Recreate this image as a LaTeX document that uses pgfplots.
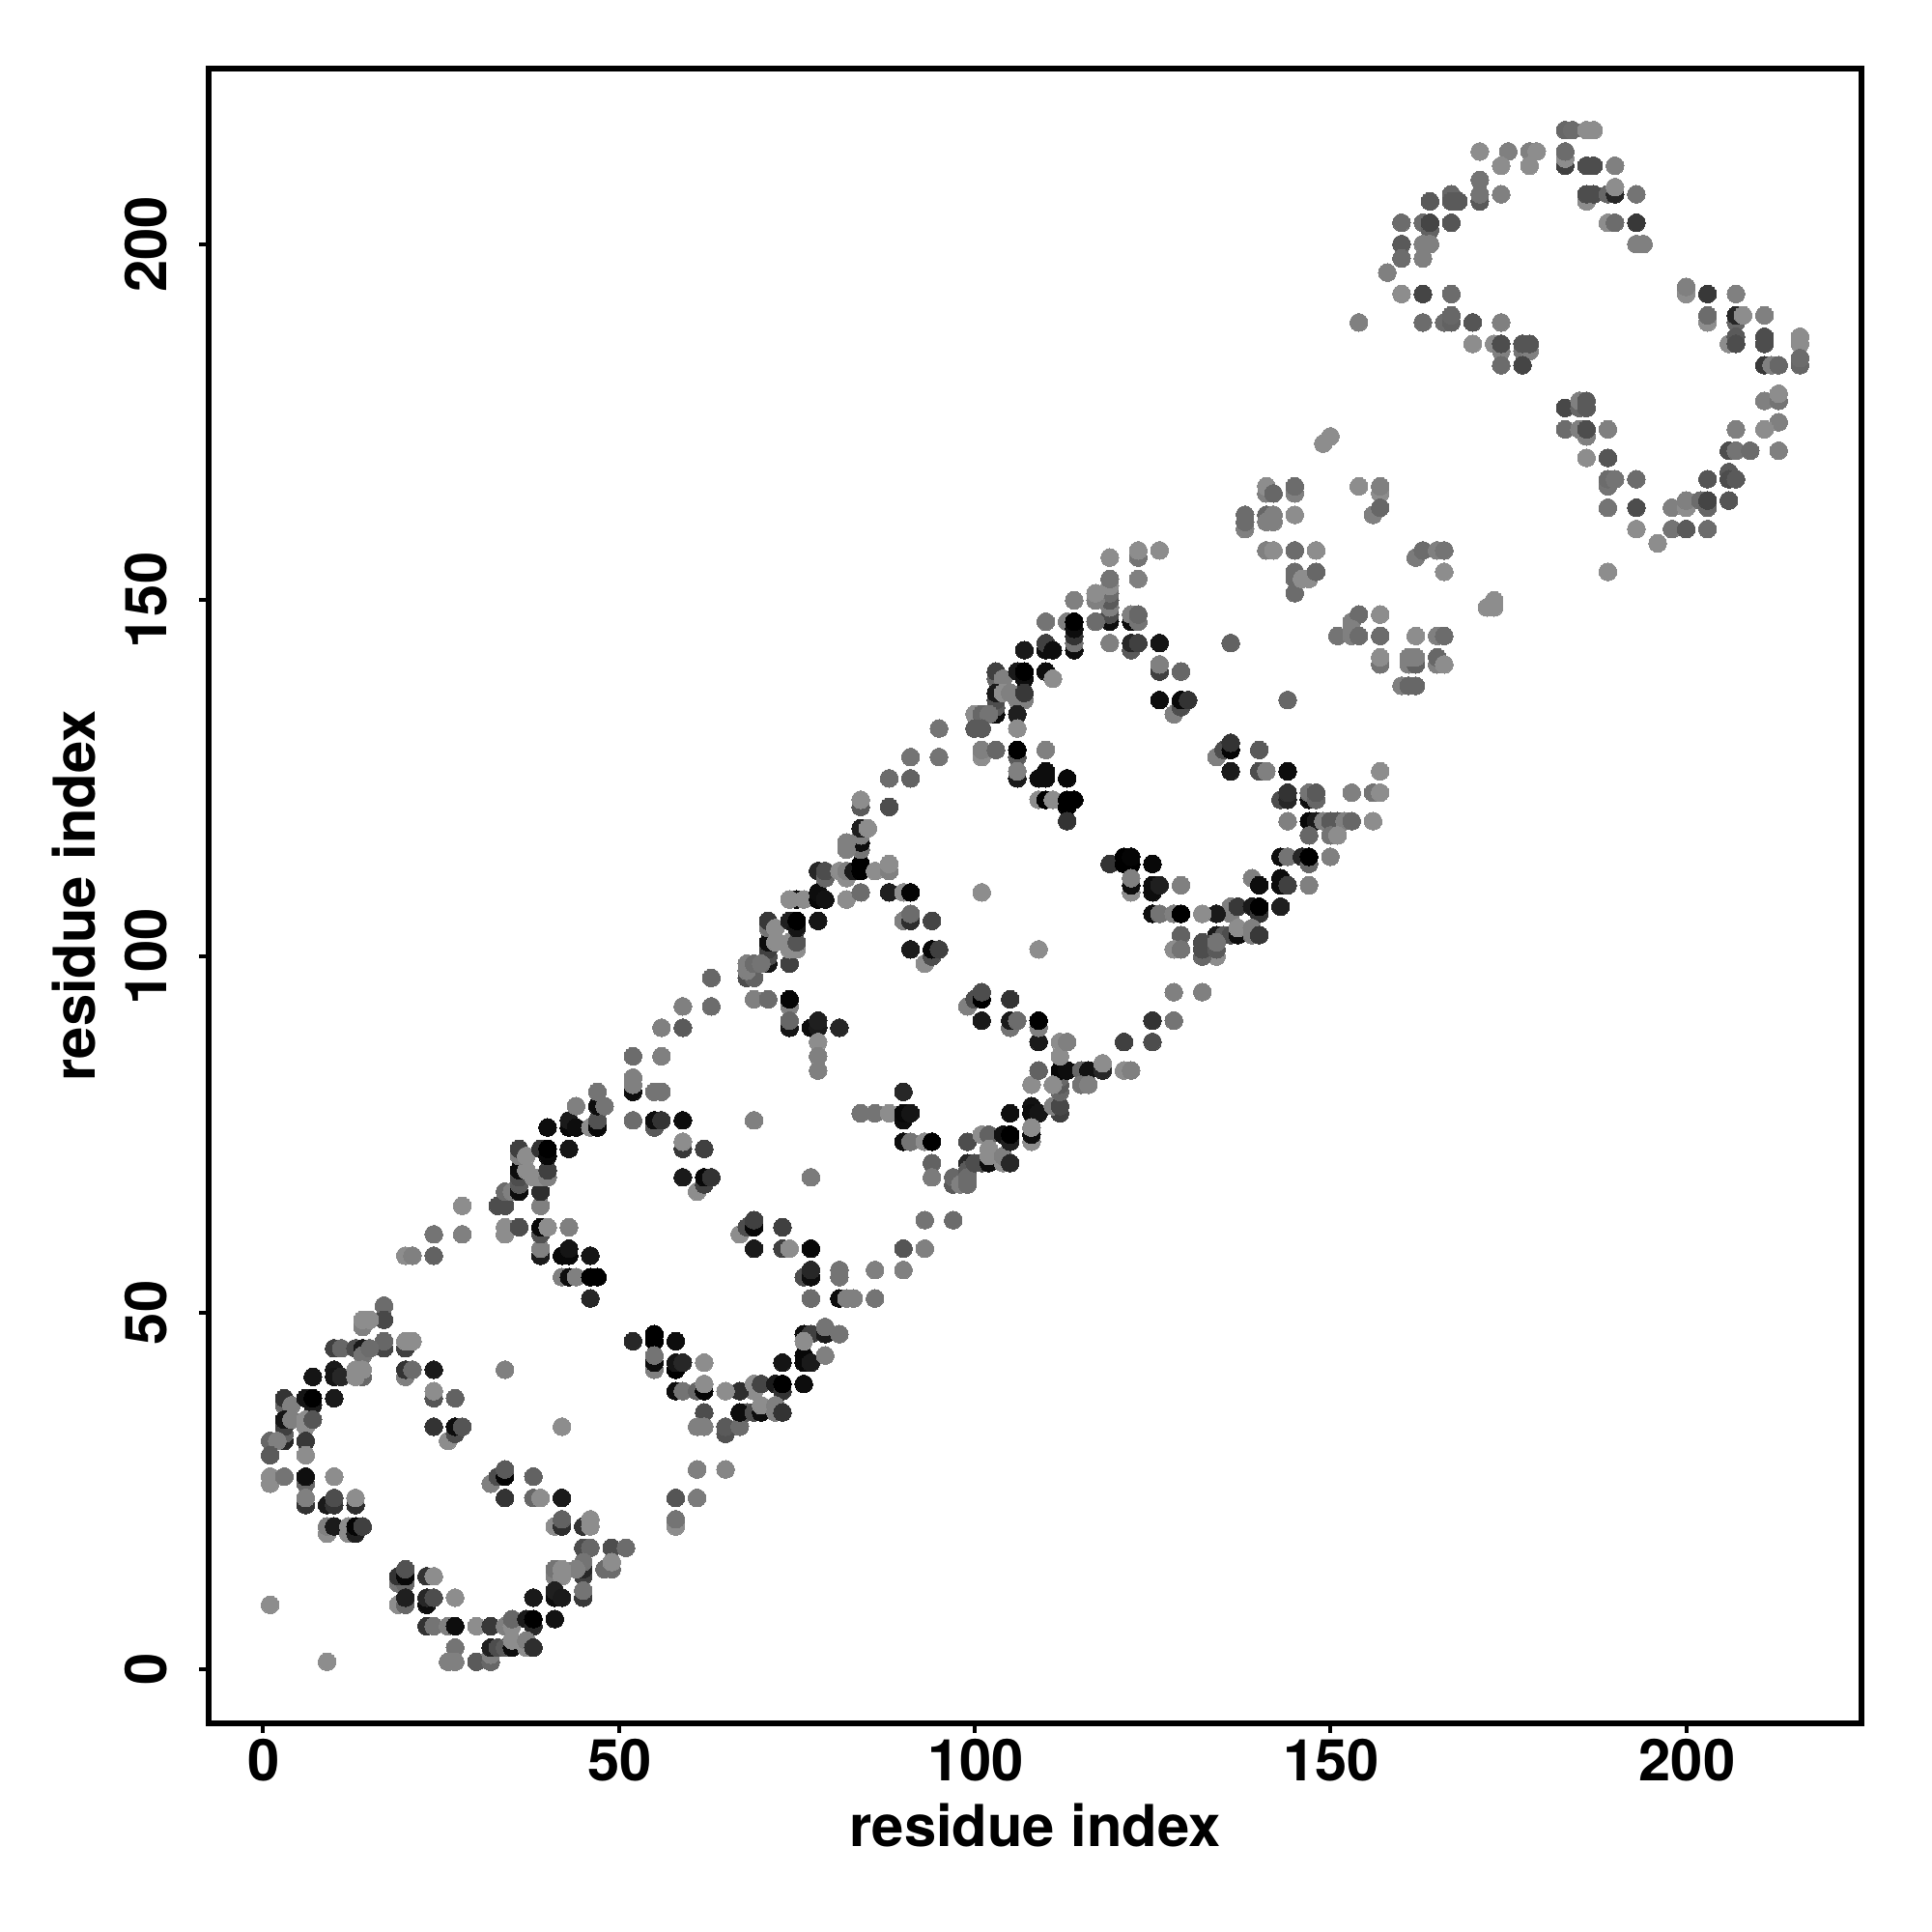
\documentclass[border=0pt]{standalone}
\usepackage{pgfplots}
\pgfplotsset{compat=1.18}
\usepackage{fontspec}
\setmainfont{TeX Gyre Heros}
\begin{document}
\begin{tikzpicture}[x=1cm,y=1cm]
\useasboundingbox (-2.16,-2.16) rectangle (17.84,17.84);
\begin{axis}[
  at={(0,0)},anchor=south west,
  scale only axis,width=17.11cm,height=17.13cm,
  xmin=-7.64,xmax=224.64,ymin=-7.64,ymax=224.64,
  xtick={0,50,100,150,200},ytick={0,50,100,150,200},
  xtick pos=bottom,ytick pos=left,tick align=outside,
  major tick length=0.95mm,
  every tick/.style={black,line width=0.4mm},
  axis line style={line width=0.53mm},
  /pgf/number format/assume math mode=true,
  tick label style={font=\fontsize{17}{20}\selectfont\bfseries},
  x tick label style={anchor=center,yshift=-2.9mm,xshift=0.1mm},
  y tick label style={rotate=90,anchor=center,yshift=5.5mm},
  xlabel={residue index},ylabel={residue index},
  label style={font=\fontsize{17}{20}\selectfont\bfseries},
  xlabel style={at={(axis description cs:0.5,0)},anchor=center,yshift=-10.55mm},
  ylabel style={at={(axis description cs:0,0.5)},anchor=center,yshift=13.9mm},
  point meta min=0,point meta max=1,
  colormap={bw}{gray(0cm)=(0);gray(1cm)=(1)},
  clip=false,
]
\addplot[scatter,only marks,mark=*,mark size=0.92mm,
  mark options={line width=0pt},
  scatter src=explicit,
  scatter/use mapped color={draw=mapped color,fill=mapped color}]
table[row sep=\\,x index=0,y index=1,meta index=2,header=false]{
1 9 .55\\ 9 1 .55\\
20 58 .55\\ 21 58 .5\\ 24 58 .38\\
17 51 .42\\ 17 49 .28\\ 14 48 .5\\ 14 49 .55\\ 15 49 .55\\
17 45 .27\\ 17 46 .4\\ 20 45 .25\\ 20 46 .55\\ 21 46 .55\\
10 45 .25\\ 11 45 .4\\ 13 45 .3\\ 14 45 .1\\ 14 44 .45\\ 15 45 .42\\
7 41 .08\\ 10 42 .1\\ 10 41 .08\\ 11 41 .15\\ 14 41 .4\\ 13 41 .55\\ 13 42 .55\\ 14 42 .55\\
20 41 .5\\ 20 42 .2\\ 21 42 .42\\ 24 42 .1\\ 34 42 .5\\
3 37 .4\\ 3 38 .2\\ 4 37 .5\\ 7 37 .1\\ 6 38 .08\\ 7 38 0\\ 10 38 .1\\
24 38 .33\\ 24 39 .55\\ 27 38 .38\\
3 32 .15\\ 3 33 .38\\ 3 34 .25\\ 3 35 .08\\ 4 35 .5\\ 1 32 .4\\ 2 32 .5\\ 1 30 .35\\ 6 34 .55\\ 6 35 .55\\ 7 35 .33\\ 6 32 .22\\ 6 30 .55\\
24 34 .2\\ 26 32 .55\\ 27 33 .3\\ 27 34 .05\\ 28 34 .33\\ 42 34 .55\\
1 26 .55\\ 1 27 .55\\ 3 27 .45\\ 6 26 .4\\ 6 27 .06\\ 10 27 .55\\
6 23 .2\\ 6 24 .5\\ 9 23 .1\\ 10 23 .2\\ 10 24 .3\\ 13 23 .18\\ 13 24 .55\\
9 19 .55\\ 9 20 .5\\ 10 20 .1\\ 12 19 .55\\ 12 20 .55\\ 13 19 .12\\ 13 20 .02\\ 14 20 .25\\
32 26 .5\\ 33 27 .3\\ 34 27 .02\\ 34 28 .35\\
38 27 .38\\ 34 24 .2\\ 38 24 .4\\ 39 24 .55\\ 42 24 .1\\ 58 24 .33\\ 58 20 .55\\ 58 21 .45\\
41 20 .55\\ 42 20 .18\\ 42 21 .38\\ 45 20 .2\\ 46 20 .55\\ 46 21 .55\\
45 17 .3\\ 46 17 .4\\ 49 17 .3\\ 51 17 .42\\
45 13 .25\\ 45 14 .15\\ 45 15 .45\\ 44 14 .5\\ 41 13 .5\\ 41 14 .45\\ 42 13 .55\\ 42 14 .55\\ 48 14 .42\\ 49 14 .42\\ 49 15 .55\\
45 10 .22\\ 45 11 .45\\ 41 10 .05\\ 41 11 .12\\ 42 10 .1\\ 38 10 .1\\
19 12 .45\\ 20 12 .4\\ 19 13 .2\\ 20 13 .03\\ 20 14 .32\\ 23 13 .2\\ 24 13 .55\\
19 9 .55\\ 20 9 .4\\ 20 10 .12\\ 23 9 .05\\ 23 10 .15\\ 24 10 .3\\ 27 10 .55\\
23 6 .2\\ 24 6 .45\\ 26 6 .5\\ 27 6 .05\\ 30 6 .55\\ 32 6 .22\\ 34 6 .5\\ 35 6 .55\\ 35 7 .4\\ 37 7 .1\\ 38 6 .15\\ 38 7 0\\ 41 7 .07\\
27 3 .45\\ 26 1 .5\\ 27 1 .5\\ 30 1 .35\\ 32 1 .4\\ 32 2 .5\\ 32 3 .12\\ 33 3 .3\\ 34 3 .35\\ 35 3 .05\\ 35 4 .55\\ 37 3 .55\\ 37 4 .5\\ 38 3 .18\\
39 58 .1\\ 42 58 .03\\ 43 58 .03\\ 46 58 .08\\ 43 59 .08\\ 39 59 .5\\ 42 55 .5\\ 43 55 .05\\ 44 55 .5\\ 46 55 0\\ 47 55 0\\ 46 52 .15\\
52 46 .15\\ 55 47 0\\ 55 46 0\\ 58 46 .05\\ 55 42 .5\\ 55 43 .05\\ 55 44 .45\\ 58 42 0\\ 58 43 .08\\ 59 43 .15\\ 58 39 .05\\ 59 39 .45\\
28 65 .55\\ 28 61 .5\\ 24 61 .45\\
34 61 .55\\ 34 62 .55\\ 36 62 .3\\ 39 61 .32\\ 39 62 .03\\ 40 62 .55\\ 43 62 .5\\
33 65 .3\\ 34 65 .3\\ 34 67 .42\\ 35 67 .5\\
36 67 .05\\ 36 68 .35\\ 36 69 .3\\ 36 70 .05\\ 37 70 .55\\ 36 72 .5\\ 36 73 .25\\ 37 72 .55\\
39 65 .5\\ 39 67 .18\\ 38 69 .55\\ 39 69 .55\\ 40 69 .5\\ 40 70 .25\\
39 73 .2\\ 40 72 .03\\ 40 73 0\\ 43 73 .08\\
40 76 .05\\ 43 76 .03\\ 43 77 .1\\ 44 76 .05\\ 46 76 .55\\ 47 76 .03\\ 47 77 .32\\ 44 79 .5\\ 47 79 .05\\ 48 79 .45\\ 47 81 .45\\
52 81 .05\\ 52 82 .5\\ 52 83 .5\\ 55 81 .45\\ 56 81 .45\\ 52 77 .42\\ 55 76 .35\\ 55 77 .05\\ 56 77 .2\\ 59 77 .05\\
52 86 .42\\ 56 86 .5\\ 56 90 .5\\ 59 90 .35\\ 59 93 .5\\ 63 93 .42\\ 63 97 .4\\
59 73 .22\\ 59 74 .55\\ 62 73 .25\\ 59 69 .1\\ 61 67 .55\\ 62 68 .25\\ 62 69 .03\\ 63 69 .2\\ 69 77 .5\\ 77 69 .48\\
62 43 .55\\
76 44 .03\\ 76 43 .03\\ 77 43 .1\\ 79 44 .5\\ 73 43 .08\\ 76 47 .05\\ 77 47 .25\\ 79 47 .1\\ 79 48 .45\\ 81 47 .45\\ 76 46 .55\\ 76 40 .05\\
69 39 .55\\ 67 39 .18\\ 65 39 .55\\ 61 39 .4\\ 62 39 .02\\ 62 40 .55\\ 69 40 .55\\ 70 40 .27\\ 72 40 .1\\ 73 39 .2\\ 73 40 0\\
62 36 .3\\ 61 34 .5\\ 62 34 .5\\ 65 33 .32\\ 65 34 .35\\ 67 34 .42\\ 68 36 .35\\ 67 36 .05\\ 69 36 .3\\ 70 36 .05\\ 70 37 .55\\ 72 36 .5\\ 72 37 .5\\ 73 36 .2\\
61 28 .5\\ 65 28 .52\\ 61 24 .48\\
67 61 .55\\ 68 62 .3\\ 69 62 .03\\ 69 63 .25\\ 73 62 .25\\ 69 59 .1\\ 73 59 .25\\ 74 59 .55\\ 77 59 .03\\
76 55 .3\\ 77 55 .05\\ 77 56 .15\\ 81 55 .45\\ 81 56 .45\\ 86 56 .5\\ 90 56 .5\\ 90 59 .33\\ 93 59 .5\\ 93 63 .45\\ 97 63 .42\\
77 52 .42\\ 81 52 .05\\ 82 52 .5\\ 83 52 .5\\ 86 52 .45\\
90 81 .15\\ 84 78 .45\\ 86 78 .45\\ 88 78 .55\\ 90 77 .05\\ 90 78 .03\\ 91 78 .08\\
90 74 .05\\ 91 74 .45\\ 93 74 .55\\ 94 74 0\\ 94 71 .38\\ 94 69 .48\\ 97 68 .35\\ 97 69 .4\\ 98 68 .5\\ 99 71 .15\\ 99 70 .35\\ 99 69 .42\\ 99 68 .42\\
99 74 .3\\ 100 71 .3\\ 101 71 .3\\ 102 71 .05\\ 101 75 .55\\ 102 75 .38\\ 102 73 .55\\ 102 72 .55\\ 104 71 .55\\ 104 72 .5\\ 105 71 .15\\ 104 75 .07\\ 105 74 .12\\ 105 75 0\\
105 78 .06\\ 108 79 .07\\ 108 78 .05\\ 109 78 .08\\ 108 74 .55\\ 108 75 .05\\ 108 76 .55\\
112 78 .25\\ 111 79 .5\\ 112 79 .28\\ 112 81 .4\\ 112 82 .35\\ 112 83 .4\\ 112 84 .03\\ 113 84 .05\\ 111 82 .55\\ 108 82 .55\\ 109 84 .38\\ 112 86 .55\\ 112 88 .55\\ 113 88 .5\\
115 84 .4\\ 116 84 .07\\ 115 82 .45\\ 116 82 .5\\ 118 84 .15\\ 118 85 .55\\ 121 84 .55\\ 122 84 .5\\
109 88 .1\\ 109 90 .5\\ 109 91 0\\ 105 90 .45\\ 105 91 .1\\ 106 91 .42\\ 101 91 .1\\ 105 94 .2\\ 99 93 .5\\ 100 94 .3\\ 101 94 0\\ 101 95 .3\\
121 88 .25\\ 125 88 .3\\ 128 95 .5\\ 132 95 .5\\ 125 91 .2\\ 128 91 .45\\
71 99 .08\\ 71 100 .3\\ 71 101 .25\\ 71 102 .05\\ 71 104 .45\\ 71 105 .22\\ 72 104 .55\\ 72 102 .55\\ 74 99 .25\\ 74 101 .55\\ 75 101 .55\\ 74 102 .55\\ 75 102 .33\\ 74 105 .12\\ 75 104 .08\\ 75 105 0\\ 78 105 .08\\
68 97 .3\\ 69 97 .38\\ 68 98 .5\\ 68 99 .5\\ 69 99 .42\\ 70 99 .45\\
69 94 .5\\ 71 94 .42\\ 74 93 .5\\ 74 94 .02\\ 74 90 .08\\ 74 91 .4\\ 77 90 .05\\ 78 90 .1\\ 78 91 .12\\ 81 90 .15\\ 78 88 .55\\ 78 86 .5\\ 78 84 .5\\
75 108 .05\\ 74 108 .55\\ 76 108 .55\\ 78 108 .03\\ 78 109 .05\\ 79 108 .07\\
78 112 .15\\ 79 111 .4\\ 79 112 .3\\ 81 112 .55\\ 82 111 .55\\ 82 112 .5\\ 83 112 .1\\ 84 112 0\\ 84 113 0\\ 86 112 .55\\ 88 112 .5\\ 88 113 .55\\
82 108 .55\\ 84 109 .42\\ 88 109 .12\\ 90 109 .55\\ 91 109 .02\\
84 115 .45\\ 84 116 .05\\ 82 115 .5\\ 82 116 .5\\ 84 117 .5\\ 84 118 .12\\ 85 118 .55\\ 84 121 .35\\ 84 122 .55\\ 88 121 .3\\
88 125 .42\\ 91 125 .38\\ 91 128 .45\\ 95 132 .45\\ 95 128 .45\\
90 105 .5\\ 91 105 .18\\ 91 106 .42\\ 94 105 .27\\
91 101 .1\\ 93 99 .55\\ 94 100 .3\\ 94 101 .03\\ 95 101 .25\\
119 156 .55\\ 123 156 .45\\ 123 157 .55\\ 126 157 .55\\
119 147 .05\\ 119 148 .3\\ 119 149 .5\\ 119 150 .35\\ 119 151 .42\\ 119 152 .55\\ 119 153 .45\\ 123 153 .5\\
117 150 .5\\ 117 151 .55\\ 114 150 .5\\ 110 147 .45\\ 113 147 .5\\ 114 143 .05\\ 114 144 .45\\ 114 145 .2\\ 114 146 .05\\ 114 147 0\\ 117 147 .42\\
122 147 .05\\ 122 148 .5\\ 123 147 .45\\ 123 148 .4\\ 119 144 .5\\ 122 143 .35\\ 122 144 .15\\ 123 144 .25\\ 126 144 .08\\
107 143 .1\\ 110 143 .05\\ 110 144 .25\\ 111 143 .05\\
103 139 .4\\ 103 140 .25\\ 104 139 .5\\ 106 140 .1\\ 107 139 .05\\ 107 140 0\\ 110 140 .05\\ 111 139 .55\\
126 140 .25\\ 126 141 .5\\ 129 140 .4\\
103 134 .05\\ 103 135 .35\\ 103 136 .3\\ 103 137 .1\\ 104 137 .55\\ 105 137 .5\\ 106 136 .5\\ 107 136 .5\\ 107 137 .22\\ 106 134 .12\\ 106 132 .55\\
100 134 .55\\ 101 134 .4\\ 102 134 .45\\ 100 132 .35\\ 101 132 .35\\
101 128 .55\\ 101 129 .5\\ 103 129 .4\\ 106 128 .35\\ 106 129 0\\ 110 129 .5\\
106 125 .1\\ 106 126 .5\\ 109 125 .05\\ 110 125 .05\\ 110 126 .05\\ 113 125 .03\\
109 122 .55\\ 110 122 0\\ 111 122 .55\\ 113 121 0\\ 113 122 0\\ 114 122 0\\ 113 119 .2\\
126 136 .05\\ 128 134 .5\\ 129 135 .3\\ 129 136 .03\\ 130 136 .2\\
144 136 .4\\ 136 144 .38\\
134 128 .5\\ 135 129 .3\\ 136 129 .02\\ 136 130 .2\\ 140 129 .35\\ 136 126 .1\\ 140 126 .3\\ 141 126 .5\\ 144 126 .05\\
143 122 .3\\ 144 122 .15\\ 144 123 .2\\ 147 122 .05\\ 147 123 .45\\ 148 122 .4\\ 148 123 .35\\ 153 123 .5\\ 156 123 .45\\ 157 123 .55\\ 157 126 .55\\
144 119 .5\\ 147 119 .03\\ 148 119 .1\\ 149 119 .5\\ 150 119 .35\\ 151 119 .35\\ 152 119 .5\\ 153 119 .4\\ 156 119 .55\\
147 117 .4\\ 150 117 .45\\ 151 117 .55\\
143 114 .05\\ 144 114 .45\\ 146 114 .15\\ 147 113 .4\\ 147 114 0\\ 150 114 .5\\ 147 110 .5\\
139 111 .5\\ 140 110 .05\\ 143 110 .05\\ 143 111 .05\\ 144 110 .25\\ 143 107 .12\\
136 106 .5\\ 136 107 .5\\ 137 107 .22\\ 139 107 .1\\ 140 106 .2\\ 140 107 0\\ 134 106 .1\\ 132 106 .55\\
134 103 .1\\ 135 103 .35\\ 136 103 .3\\ 137 103 .05\\ 137 104 .55\\ 139 103 .5\\ 139 104 .5\\ 140 103 .22\\
129 103 .38\\ 128 101 .55\\ 129 101 .45\\ 134 100 .55\\ 132 100 .4\\ 132 101 .3\\ 132 102 .3\\ 134 101 .35\\ 134 102 .45\\
125 106 .05\\ 126 106 .45\\ 128 106 .5\\ 129 106 0\\
119 113 .2\\ 121 113 0\\ 121 114 0\\ 122 113 0\\ 122 114 .02\\ 125 113 .03\\
122 109 .55\\ 122 110 .05\\ 122 111 .5\\ 125 109 .05\\ 125 110 .05\\ 126 110 .12\\ 129 110 .5\\ 101 109 .55\\ 109 101 .55\\
149 172 .55\\ 150 173 .55\\
141 165 .5\\ 141 166 .55\\ 142 165 .4\\ 145 165 .5\\ 145 166 .42\\ 154 166 .55\\ 157 165 .55\\ 157 166 .5\\ 156 162 .5\\ 157 163 .4\\
138 160 .5\\ 138 161 .42\\ 138 162 .42\\ 141 162 .4\\ 141 161 .5\\ 142 161 .5\\ 142 162 .5\\ 145 162 .55\\
141 157 .5\\ 142 157 .55\\ 145 157 .42\\ 148 157 .55\\
145 151 .42\\ 145 153 .42\\ 145 154 .42\\ 146 153 .55\\ 147 153 .55\\ 148 154 .4\\
162 156 .48\\ 163 157 .42\\ 165 157 .5\\ 166 157 .45\\ 166 154 .55\\
172 149 .55\\ 173 149 .55\\ 173 150 .55\\
153 147 .5\\ 154 148 .42\\ 157 148 .55\\ 151 145 .45\\ 153 146 .5\\ 153 145 .5\\ 154 145 .42\\ 157 145 .42\\
162 145 .55\\ 165 145 .5\\ 166 145 .42\\
157 141 .45\\ 157 142 .55\\ 161 141 .5\\ 162 141 .38\\ 161 142 .5\\ 162 142 .5\\ 165 141 .5\\ 165 142 .4\\ 166 141 .55\\
160 138 .5\\ 161 138 .4\\ 162 138 .4\\
154 189 .5\\
183 211 .25\\ 183 212 .55\\ 183 213 .42\\ 183 216 .4\\ 184 216 .42\\ 186 216 .55\\ 187 216 .55\\
171 213 .55\\ 175 213 .5\\ 178 213 .5\\ 179 213 .55\\ 174 211 .55\\ 178 211 .55\\
186 211 .3\\ 187 211 .3\\ 190 211 .5\\
171 206 .35\\ 171 207 .45\\ 171 209 .45\\ 174 207 .5\\
164 206 .35\\ 167 207 .4\\ 167 206 .35\\ 168 206 .35\\
186 206 .55\\ 186 207 .3\\ 187 207 .3\\ 189 207 .4\\ 190 207 .15\\ 190 208 .55\\ 193 207 .45\\
189 203 .55\\ 190 203 .42\\ 193 203 .22\\
193 200 .5\\ 194 200 .5\\
160 203 .42\\ 163 203 .42\\ 164 202 .38\\ 164 203 .27\\ 167 203 .33\\
160 200 .35\\ 163 200 .5\\ 164 200 .5\\ 160 198 .42\\ 163 198 .5\\ 158 196 .5\\
160 193 .55\\ 163 193 .27\\ 167 193 .42\\
163 189 .42\\ 166 189 .42\\ 167 189 .38\\ 167 190 .4\\ 170 189 .33\\ 174 189 .5\\
170 186 .55\\ 173 186 .55\\ 174 185 .5\\ 174 186 .3\\ 174 183 .42\\ 177 185 .45\\ 178 185 .5\\ 177 186 .33\\ 178 186 .33\\ 177 183 .27\\
183 177 .28\\ 185 177 .4\\ 185 178 .5\\ 186 177 .35\\ 186 178 .35\\
183 174 .42\\ 185 174 .5\\ 186 173 .5\\ 186 174 .3\\ 189 174 .5\\
186 170 .55\\ 189 170 .33\\
189 166 .45\\ 189 167 .42\\ 190 167 .45\\ 193 167 .42\\
189 163 .45\\ 193 163 .3\\ 193 160 .55\\ 189 154 .55\\
200 193 .55\\ 200 194 .5\\ 203 193 .22\\ 207 193 .5\\
203 189 .55\\ 203 190 .42\\ 207 189 .4\\ 207 190 .15\\ 208 190 .55\\ 211 190 .5\\
206 186 .55\\ 207 187 .35\\ 207 186 .3\\ 211 187 .3\\ 211 186 .3\\ 216 186 .55\\ 216 187 .55\\
211 183 .22\\ 212 183 .5\\ 213 183 .4\\ 216 183 .4\\ 216 184 .42\\
211 178 .5\\ 213 178 .45\\ 213 179 .55\\
213 175 .5\\ 211 174 .55\\ 207 174 .5\\
206 171 .3\\ 207 171 .45\\ 209 171 .42\\ 213 171 .5\\
206 168 .35\\ 206 167 .3\\ 207 167 .35\\ 203 167 .33\\
206 164 .33\\ 198 163 .5\\ 200 163 .55\\ 200 164 .5\\ 202 164 .42\\ 203 163 .4\\ 203 164 .27\\
198 160 .45\\ 200 160 .35\\ 203 160 .42\\ 196 158 .55\\
};
\end{axis}
\end{tikzpicture}
\end{document}
